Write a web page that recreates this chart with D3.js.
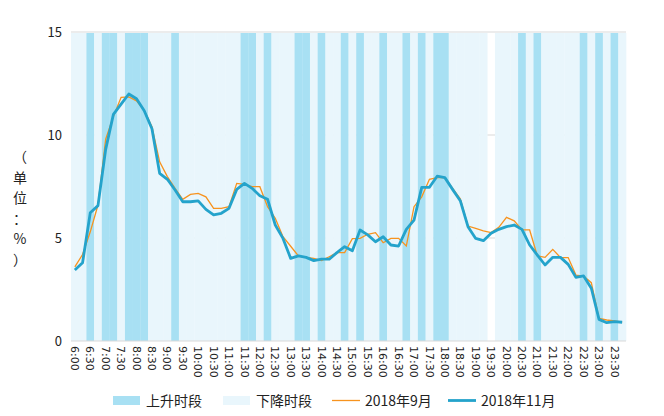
<!DOCTYPE html>
<html>
<head>
<meta charset="utf-8">
<script src="https://cdn.jsdelivr.net/npm/d3@7/dist/d3.min.js"></script>
<style>
  body { margin: 0; background: #fff; }
  svg text { font-family: "Microsoft YaHei", "Noto Sans CJK SC", sans-serif; fill: #222; }
</style>
</head>
<body>
<div id="chart"></div>
<script>
// time slots, every 15 minutes
const times = [
  "6:00","6:15","6:30","6:45","7:00","7:15","7:30","7:45","8:00","8:15","8:30","8:45",
  "9:00","9:15","9:30","9:45","10:00","10:15","10:30","10:45","11:00","11:15","11:30","11:45",
  "12:00","12:15","12:30","12:45","13:00","13:15","13:30","13:45","14:00","14:15","14:30","14:45",
  "15:00","15:15","15:30","15:45","16:00","16:15","16:30","16:45","17:00","17:15","17:30","17:45",
  "18:00","18:15","18:30","18:45","19:00","19:15","19:30","19:45","20:00","20:15","20:30","20:45",
  "21:00","21:15","21:30","21:45","22:00","22:15","22:30","22:45","23:00","23:15","23:30","23:45"
];

// 1 = 上升时段, 0 = 下降时段, null = none
const trend = [
  0,0,1,0,1,1,0,1,1,1,0,0,
  0,1,0,0,0,0,0,0,0,0,1,1,
  0,1,0,0,0,1,1,0,1,0,0,1,
  0,1,0,0,1,0,0,1,0,1,0,1,
  1,0,0,0,0,0,null,0,0,0,1,0,
  1,0,0,0,0,0,1,0,1,0,1,0
];

const sep2018 = [
  3.6,4.2,5.3,6.6,9.8,10.9,11.83,11.85,11.66,11.2,10.4,8.7,
  7.98,7.41,6.88,7.12,7.17,7.0,6.44,6.44,6.52,7.65,7.6,7.49,
  7.49,6.52,5.96,5.06,4.6,4.13,4.06,4.01,3.9,4.09,4.29,4.29,
  4.97,4.98,5.18,5.26,4.77,4.98,4.98,4.61,6.52,7.0,7.85,7.93,
  7.93,7.41,6.9,5.58,5.47,5.35,5.26,5.52,6.0,5.83,5.39,5.39,
  4.13,4.06,4.45,4.05,4.05,3.2,3.15,2.83,1.1,1.02,0.97,0.91
];

const nov2018 = [
  3.45,3.8,6.23,6.57,9.3,11.0,11.5,11.99,11.76,11.18,10.3,8.14,
  7.85,7.33,6.76,6.76,6.8,6.39,6.12,6.2,6.44,7.36,7.65,7.41,
  7.05,6.88,5.63,4.98,4.01,4.13,4.06,3.9,3.97,3.97,4.29,4.58,
  4.38,5.39,5.15,4.82,5.06,4.66,4.61,5.42,5.87,7.46,7.46,8.0,
  7.93,7.36,6.81,5.55,4.98,4.87,5.23,5.42,5.55,5.63,5.42,4.66,
  4.17,3.69,4.06,4.06,3.72,3.09,3.16,2.56,1.05,0.89,0.94,0.91
];

const yTicks = [0, 5, 10, 15];

const width = 664;
const height = 416;
const colorUp = '#a8e0f3';
const colorDown = '#e9f6fc';
const colorSep = '#f7931e';
const colorNov = '#24a3cb';

const svg = d3.select('#chart').append('svg')
  .attr('width', width)
  .attr('height', height);

const x = d3.scaleBand().domain(times).range([71, 626]).padding(0);
const y = d3.scaleLinear().domain([0, 15]).range([341, 32]);
const bw = x.bandwidth();

// gridlines
svg.append('g').selectAll('line')
  .data(yTicks.filter(d => d > 0))
  .join('line')
  .attr('x1', 71).attr('x2', 626)
  .attr('y1', d => y(d)).attr('y2', d => y(d))
  .attr('stroke', '#d9d9d9').attr('stroke-width', 1);

// background bands
svg.append('g').selectAll('rect')
  .data(times.map((t, i) => ({ t, v: trend[i] })).filter(d => d.v !== null))
  .join('rect')
  .attr('x', d => x(d.t))
  .attr('width', bw + 0.3)
  .attr('y', y(15) + 1)
  .attr('height', y(0) - y(15) - 1)
  .attr('fill', d => d.v === 1 ? colorUp : colorDown);

// x axis line
svg.append('line')
  .attr('x1', 71).attr('x2', 626)
  .attr('y1', y(0)).attr('y2', y(0))
  .attr('stroke', '#d9d9d9');

// lines
const line = d3.line()
  .x((d, i) => x(times[i]) + bw / 2)
  .y(d => y(d));

svg.append('path')
  .datum(sep2018)
  .attr('fill', 'none')
  .attr('stroke', colorSep)
  .attr('stroke-width', 1.3)
  .attr('d', line);

svg.append('path')
  .datum(nov2018)
  .attr('fill', 'none')
  .attr('stroke', colorNov)
  .attr('stroke-width', 2.8)
  .attr('stroke-linejoin', 'round')
  .attr('d', line);

// y axis
const yAxis = svg.append('g')
  .attr('transform', 'translate(64,0)')
  .call(d3.axisLeft(y).tickValues(yTicks).tickSize(0).tickPadding(2));
yAxis.select('.domain').remove();
yAxis.selectAll('text')
  .style('font-size', '13px')
  .style('font-family', '"Microsoft YaHei", "Noto Sans CJK SC", sans-serif')
  .attr('fill', '#222');

// x axis labels, every half hour
const xAxis = svg.append('g')
  .attr('transform', `translate(0,${y(0)})`)
  .call(d3.axisBottom(x).tickValues(times.filter((d, i) => i % 2 === 0)).tickSize(0));
xAxis.select('.domain').remove();
xAxis.selectAll('text')
  .attr('y', 0)
  .attr('x', 0)
  .attr('dy', '0.35em')
  .attr('transform', 'translate(0,5) rotate(90)')
  .style('text-anchor', 'start')
  .style('font-size', '11px')
  .style('font-family', '"DejaVu Sans", sans-serif')
  .attr('fill', '#222');

// y label, vertical
const yLabel = ['（', '单', '位', '：', '%', '）'];
svg.append('g').selectAll('text')
  .data(yLabel)
  .join('text')
  .attr('x', 20)
  .attr('y', (d, i) => 162 + i * 20.5)
  .attr('text-anchor', 'middle')
  .style('font-size', '14px')
  .text(d => d);

// legend
const legend = svg.append('g');
const items = [
  { label: '上升时段', type: 'rect', color: colorUp, x: 113 },
  { label: '下降时段', type: 'rect', color: colorDown, x: 223 },
  { label: '2018年9月', type: 'line', color: colorSep, x: 332, w: 1.3 },
  { label: '2018年11月', type: 'line', color: colorNov, x: 448, w: 2.8 }
];
items.forEach(d => {
  if (d.type === 'rect') {
    legend.append('rect')
      .attr('x', d.x).attr('y', 396)
      .attr('width', 27).attr('height', 9)
      .attr('fill', d.color);
  } else {
    legend.append('line')
      .attr('x1', d.x).attr('x2', d.x + 28)
      .attr('y1', 400.5).attr('y2', 400.5)
      .attr('stroke', d.color).attr('stroke-width', d.w);
  }
  legend.append('text')
    .attr('x', d.x + 33)
    .attr('y', 406)
    .style('font-size', '14px')
    .text(d.label);
});
</script>
</body>
</html>
